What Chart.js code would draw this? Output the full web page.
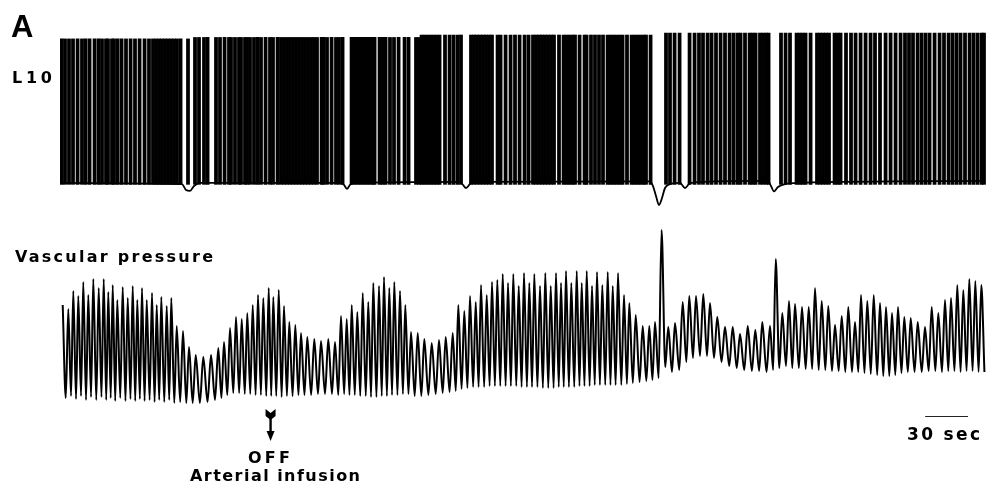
<!DOCTYPE html>
<html><head><meta charset="utf-8">
<script src="https://cdn.jsdelivr.net/npm/chart.js@4.4.1/dist/chart.umd.min.js"></script>
<style>html,body{margin:0;padding:0;background:#fff;overflow:hidden}canvas{display:block}</style>
</head><body>
<canvas id="c" width="994" height="501"></canvas>
<script>
// ===== DATA (time in s, L10 in mV, vascular pressure in arbitrary units) =====
// L10 action potential times (s); dense epochs are unresolved in the record
const l10SpikeTimes = [1.1, 3.5, 6.3, 9.1, 12.3, 15.4, 17.9, 20.7, 24.2, 27.0, 29.4, 32.2, 33.6, 36.4, 37.8, 40.3, 43.1, 46.2, 49.4, 52.5, 55.7, 59.2, 62.3,
 65.1, 67.2, 69.3, 71.4, 73.5, 75.6, 77.7, 79.8, 81.9, 84.4,
 89.6,
 94.5, 97.3, 100.8, 103.3, 109.2, 112.0, 115.2, 118.3, 119.7, 122.5, 125.3, 126.7, 129.5, 130.9, 133.0, 135.8, 138.3, 140.7, 143.9, 147.0, 149.1, 152.3,
 154.7, 156.8, 158.9, 161.0, 163.1, 165.2, 167.3, 169.4, 171.5, 173.6, 175.7, 177.8, 179.9,
 183.1, 184.5, 186.9, 190.1, 193.2, 195.3, 197.8,
 204.1, 206.2, 208.3, 210.4, 212.5, 214.6, 216.7, 218.8, 220.2, 223.7, 225.8, 227.9, 231.0, 233.8, 237.0, 241.2, 244.0, 249.2, 251.3,
 253.1, 255.2, 257.3, 259.4, 261.5, 263.6, 265.7, 269.5, 272.7, 275.5, 278.3, 280.7,
 287.7, 289.8, 291.9, 294.0, 296.1, 298.2, 300.3, 302.4, 306.3, 308.4, 311.9, 315.4, 318.5, 321.7, 325.2, 328.0, 331.1,
 333.2, 335.3, 337.4, 339.5, 341.6, 343.7, 345.8, 349.3, 352.5, 354.6, 356.7, 358.8, 360.5, 363.7, 367.2, 368.6, 371.7, 374.5, 377.3, 380.1, 383.3,
 385.4, 387.5, 389.6, 391.7, 393.8, 396.9, 400.1, 402.2, 404.3, 406.4, 408.5, 410.2, 413.4,
 424.2, 427.0, 430.2, 433.7,
 440.7, 444.2, 447.3, 450.1, 453.3, 456.1, 459.2, 462.4, 465.5, 468.7, 471.5,
 474.3, 476.4, 479.5, 482.7, 484.8, 486.9, 490.0, 492.1, 494.2, 496.0,
 504.7, 507.9, 511.0, 515.6, 517.7, 519.8, 521.9, 525.4, 529.9, 532.0, 534.1, 536.2, 538.3, 542.2, 544.3, 546.4,
 550.2, 553.7, 556.9, 560.4, 563.9, 567.4, 570.5, 574.0, 577.9, 581.4, 584.9, 588.4, 591.5, 594.3, 597.1, 600.3, 603.1, 605.9, 608.7, 612.2, 615.7, 618.8, 622.0, 624.8, 627.6, 630.4, 633.5, 636.7, 639.5, 642.3, 645.1, 646.8];
// spike peak level by recording section (section start times, s)
const l10SectionStarts = [0, 91, 252, 420];
const l10SectionPeakMv = [9.0, 9.6, 10.6, 11.4];
const l10SpikeTroughMv = -50.8;
// L10 membrane baseline (between spikes / during pauses)
const l10BaselineTimes = [0, 63, 85.4, 88.2, 91, 93.8, 98, 196, 198.8, 200.9, 203, 206.5, 280, 282.1, 284.2, 287, 291.2, 413, 415.1, 417.2, 419.3, 421.4, 423.5, 427, 434, 437.5, 440.3, 444.5, 495.6, 497.7, 499.8, 502.6, 507.5, 518, 647.5];
const l10BaselineMv = [-50.2, -50.5, -50.7, -53.1, -53.5, -51.5, -50.2, -50.2, -51.0, -52.7, -51.0, -50.2, -49.8, -51.0, -52.3, -50.7, -49.8, -49.6, -51.5, -55.6, -59.3, -56.4, -52.3, -50.7, -50.2, -52.3, -50.7, -50.0, -49.4, -51.5, -53.7, -51.9, -50.7, -50.2, -49.4];

// Vascular pressure: one entry per beat
const vpPeakTimes = [1.9, 5.8, 9.3, 12.8, 16.3, 19.8, 23.3, 27.1, 30.6, 33.8,
 36.9, 40.1, 43.9, 47.4, 50.9, 54.1, 57.4, 60.7, 64.4, 67.7,
 70.9, 74.7, 77.9, 81.7, 86.1, 90.3, 95.0, 100.3, 105.7, 110.8,
 114.8, 119.0, 123.2, 127.2, 131.1, 134.9, 138.6, 142.3, 146.1, 149.3,
 153.1, 156.8, 160.5, 164.7, 168.7, 173.1, 178.0, 182.7, 187.8, 192.5,
 196.7, 200.7, 204.2, 208.1, 211.9, 215.8, 219.3, 223.3, 226.8, 230.5,
 234.0, 238.0, 241.7, 245.7, 250.4, 255.0, 260.2, 265.3, 270.0, 274.9,
 278.8, 283.0, 287.0, 291.0, 294.7, 298.7, 302.4, 306.1, 309.9, 313.6,
 317.3, 321.1, 324.8, 328.5, 332.0, 336.0, 339.7, 343.5, 347.2, 350.7,
 354.2, 357.9, 361.7, 365.2, 368.7, 372.4, 375.9, 379.6, 383.4, 386.9,
 390.6, 394.8, 398.5, 403.0, 407.9, 412.5, 416.5, 421.1, 425.8, 430.5,
 435.9, 440.5, 445.2, 450.3, 455.0, 460.1, 465.5, 470.9, 476.0, 481.4,
 486.7, 491.6, 497.0, 501.0, 505.6, 510.3, 514.5, 519.4, 524.1, 528.5,
 533.2, 537.8, 542.5, 547.2, 551.8, 556.5, 560.7, 565.1, 569.6, 574.0,
 578.2, 582.4, 586.6, 591.0, 595.5, 600.4, 605.5, 610.2, 614.8, 619.5,
 623.7, 628.1, 632.3, 636.5, 640.7, 644.9];
const vpPeakValues = [47.5, 45.5, 54.5, 52, 59, 52.5, 60.5, 56, 60.5, 54,
 57.5, 50, 56.5, 51, 57, 50, 56, 50, 53.5, 47.5,
 51.5, 47, 51, 37, 34.5, 26.5, 22.5, 21.5, 22.5, 26,
 29, 36, 41.5, 40.5, 43.5, 47.5, 52.5, 51, 56, 51.5,
 55, 47, 39, 37.5, 33.5, 31.5, 30.5, 29.5, 30.5, 29,
 42, 40.5, 47.5, 44, 53.5, 49, 58.5, 57, 61.5, 56,
 59, 54.5, 47.5, 34, 33.5, 30.5, 28.5, 30, 31.5, 33.5,
 47.5, 44.5, 52, 49, 57.5, 52.5, 59, 60, 63, 58.5,
 63, 57, 63.5, 58.5, 63, 57, 63.5, 57, 63.5, 58.5,
 64.5, 58.5, 64.5, 58.5, 64.5, 57, 64, 57.5, 64, 57,
 63.5, 52.5, 48.5, 42.5, 37, 37, 39, 85, 36.5, 38.5,
 49, 52, 52, 53, 48.5, 41.5, 36.5, 36.5, 33, 37,
 35, 39, 37, 70.5, 43.5, 49.5, 48, 46.5, 46.5, 56,
 49.5, 47, 37.5, 42, 46.5, 39, 52.5, 49.5, 52.5, 48.5,
 46.5, 43.5, 46.5, 41.5, 41, 39, 36.5, 46.5, 43.5, 50,
 51, 57.5, 55, 60.5, 59.5, 57.5];
const vpTroughValues = [1, 2, 0.5, 2, 0, 1.5, 0, 1.5, 0, 1,
 -0.5, 1, -0.5, 0.5, -0.5, 0.5, -0.5, 0, -1, 0,
 -1, 0, -1.5, -1, -1.5, -1.5, -1.5, -1, 0, 1,
 2.5, 3.5, 3.5, 3, 3, 2.5, 2.5, 2, 2, 2,
 1.5, 2, 2, 2.5, 2.5, 2.5, 3, 3, 3, 2.5,
 3, 2.5, 2.5, 2, 2, 1.5, 1.5, 2, 2, 2.5,
 2.5, 3, 3, 2, 2, 2.5, 3, 3.5, 4, 4.5,
 5.5, 6, 6.5, 6.5, 6.5, 7, 7, 7, 7, 7,
 7, 6.5, 6.5, 6.5, 6.5, 6, 6, 6, 6.5, 6.5,
 6.5, 6.5, 7, 7, 7, 7.5, 7.5, 7.5, 7.5, 7.5,
 7.5, 8, 8.5, 9, 9.5, 10, 11, 16.5, 14, 15,
 19, 21, 22, 22, 21, 19, 17, 16, 15, 14.5,
 14.5, 14, 15, 16, 17, 16, 16, 15.5, 15.5, 15,
 15, 14.5, 14.5, 14, 14, 14, 13.5, 13, 12.5, 12,
 12, 12.5, 13.5, 14, 14, 14, 14.5, 14.5, 14, 14.5,
 14.5, 14, 14.5, 14.5, 14, 14];

const infusionOffTime = 147.4;   // s
const scaleBarStart = 605.6;     // s
const scaleBarLength = 30;       // s

const panelLetter = 'A';
const traceLabelTop = 'L10';
const traceLabelBottom = 'Vascular pressure';
const eventLabel1 = 'OFF';
const eventLabel2 = 'Arterial infusion';
const scaleBarLabel = '30 sec';

// ===== build library tables =====
const spikeData = l10SpikeTimes.map(t => {
  let k = 0;
  for (let i = 0; i < l10SectionStarts.length; i++) if (t >= l10SectionStarts[i]) k = i;
  return { x: t, y: [l10SpikeTroughMv, l10SectionPeakMv[k]] };
});
const baselineData = l10BaselineTimes.map((t, i) => ({ x: t, y: l10BaselineMv[i] }));
const vpData = [];
vpPeakTimes.forEach((t, i) => {
  vpData.push({ x: t, y: vpPeakValues[i] });
  const next = i < vpPeakTimes.length - 1 ? vpPeakTimes[i + 1] : t + 4;
  vpData.push({ x: t + 0.55 * (next - t), y: vpTroughValues[i] });
});

function fitText(ctx, text, x, y, font, width) {
  ctx.font = font;
  if ('letterSpacing' in ctx) ctx.letterSpacing = '0px';
  const w = ctx.measureText(text).width;
  if ('letterSpacing' in ctx && text.length > 1) {
    const s = Math.max(0, (width - w) / (text.length - 1));
    ctx.letterSpacing = s.toFixed(2) + 'px';
  }
  ctx.fillText(text, x, y);
  if ('letterSpacing' in ctx) ctx.letterSpacing = '0px';
}

const annotations = {
  id: 'annotations',
  afterDraw(chart) {
    const ctx = chart.ctx;
    const xs = chart.scales.x;
    ctx.save();
    ctx.fillStyle = '#000';
    ctx.strokeStyle = '#000';
    ctx.textBaseline = 'alphabetic';
    ctx.textAlign = 'left';
    const F = '"DejaVu Sans", Verdana, sans-serif';
    const H = '"Liberation Sans", Arial, Helvetica, sans-serif';
    fitText(ctx, panelLetter, 11, 37, 'bold 31px ' + H, 22);
    fitText(ctx, traceLabelTop, 12, 83, 'bold 16px ' + F, 40);
    fitText(ctx, traceLabelBottom, 15, 262, 'bold 16px ' + F, 198);
    fitText(ctx, eventLabel1, 248, 463, 'bold 16px ' + F, 42);
    fitText(ctx, eventLabel2, 190, 481, 'bold 16px ' + F, 170);
    fitText(ctx, scaleBarLabel, 907, 440, 'bold 17px ' + F, 73);

    // arrow marking infusion off
    const xa = xs.getPixelForValue(infusionOffTime);
    ctx.beginPath();
    ctx.moveTo(xa - 5, 409);
    ctx.lineTo(xa, 413);
    ctx.lineTo(xa + 5, 409);
    ctx.lineTo(xa + 5, 416);
    ctx.lineTo(xa, 420);
    ctx.lineTo(xa - 5, 416);
    ctx.closePath();
    ctx.fill();
    ctx.fillRect(xa - 1.2, 418, 2.4, 14);
    ctx.beginPath();
    ctx.moveTo(xa - 4, 431);
    ctx.lineTo(xa + 4, 431);
    ctx.lineTo(xa, 441);
    ctx.closePath();
    ctx.fill();

    // scale bar
    const x0 = xs.getPixelForValue(scaleBarStart);
    const x1 = xs.getPixelForValue(scaleBarStart + scaleBarLength);
    ctx.strokeStyle = '#222';
    ctx.lineWidth = 1;
    ctx.beginPath();
    ctx.moveTo(x0, 416.5);
    ctx.lineTo(x1, 416.5);
    ctx.stroke();
    ctx.restore();
  }
};

new Chart(document.getElementById('c').getContext('2d'), {
  type: 'line',
  data: {
    datasets: [
      { type: 'bar', label: 'L10 spikes', data: spikeData, xAxisID: 'x', yAxisID: 'yL10',
        backgroundColor: '#000', borderWidth: 0, barThickness: 3.1, grouped: false, order: 3 },
      { type: 'line', label: 'L10 baseline', data: baselineData, xAxisID: 'x', yAxisID: 'yL10',
        borderColor: '#000', borderWidth: 1.8, pointRadius: 0, cubicInterpolationMode: 'monotone', order: 2 },
      { type: 'line', label: 'Vascular pressure', data: vpData, xAxisID: 'x', yAxisID: 'yVP',
        borderColor: '#000', borderWidth: 2, pointRadius: 0, cubicInterpolationMode: 'monotone', order: 1 }
    ]
  },
  options: {
    responsive: false,
    animation: false,
    devicePixelRatio: 1,
    events: [],
    layout: { padding: { left: 60, right: 8, top: 0, bottom: 0 } },
    plugins: { legend: { display: false }, tooltip: { enabled: false } },
    scales: {
      x: { type: 'linear', min: 0, max: 648.2, display: false, offset: false },
      yL10: { type: 'linear', min: -181, max: 25, display: false },
      yVP: { type: 'linear', min: -50.5, max: 200, display: false }
    }
  },
  plugins: [annotations]
});
</script>
</body></html>
